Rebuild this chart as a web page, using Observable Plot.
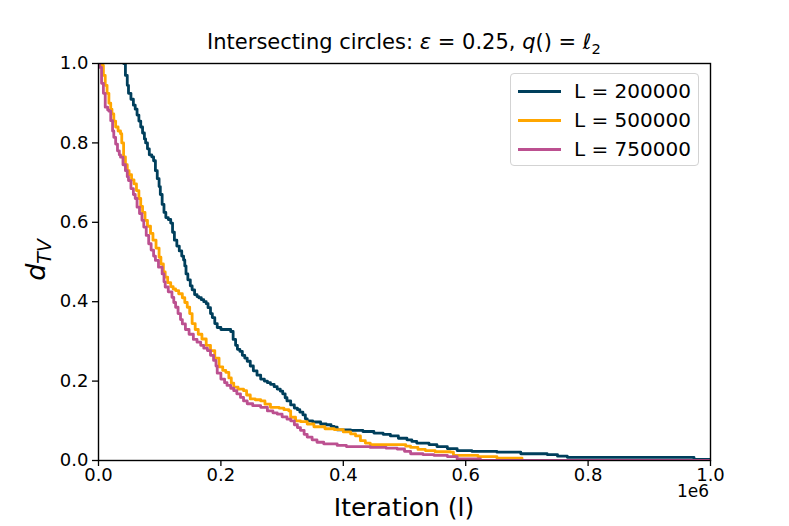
<!DOCTYPE html>
<html>
<head>
<meta charset="utf-8">
<script src="https://cdn.jsdelivr.net/npm/d3@7"></script>
<script src="https://cdn.jsdelivr.net/npm/@observablehq/plot@0.6"></script>
<style>
  html, body { margin: 0; padding: 0; background: white; }
  #wrap { position: relative; width: 789px; height: 526px; font-family: "DejaVu Sans", sans-serif; color: black; }
  #title { position: absolute; left: 98px; width: 612px; top: 31px; text-align: center; font-size: 21px; line-height: 23px; }
  #xlabel { position: absolute; left: 98px; width: 612px; top: 494px; text-align: center; font-size: 25px; line-height: 28px; }
  #ylabel { position: absolute; left: 40px; top: 260px; transform: translate(-50%, -50%) rotate(-90deg); font-size: 27px; white-space: nowrap; line-height: 30px; }
  #offset { position: absolute; right: 80px; top: 484px; font-size: 17px; line-height: 15px; }
  #legend { position: absolute; left: 510px; top: 73px; width: 189px; height: 93px; border: 1px solid #d3d3d3; border-radius: 4px; background: rgba(255,255,255,0.85); box-sizing: border-box; }
  .row { position: absolute; left: 0; height: 24px; width: 100%; }
  .sw { position: absolute; left: 7px; top: 10.5px; width: 43px; height: 3px; }
  .lt { position: absolute; left: 63px; top: 0; font-size: 20px; line-height: 24px; white-space: nowrap; }
  sub { font-size: 0.7em; }
</style>
</head>
<body>
<div id="wrap">
  <div id="chart"></div>
  <div id="title">Intersecting circles: <i>ε</i> = 0.25, <i>q</i>() = <i>ℓ</i><sub>2</sub></div>
  <div id="ylabel"><i>d</i><sub><i>TV</i></sub></div>
  <div id="xlabel">Iteration (l)</div>
  <div id="offset">1e6</div>
  <div id="legend"></div>
</div>
<script>
// ---- data ----
const seriesNames = ["L = 200000", "L = 500000", "L = 750000"];
const seriesColors = ["#003f5c", "#ffa600", "#bc5090"];
const xTicks = [0, 200000, 400000, 600000, 800000, 1000000];
const yTicks = [0, 0.2, 0.4, 0.6, 0.8, 1.0];

const iterL200k = [41000,44000,47000,49000,53000,57000,60000,63000,66000,69000,72000,75000,77000,80000,83000,87000,90000,93000,96000,99000,101000,104000,107000,110000,114000,118000,121000,124000,128000,132000,136000,139000,141000,143000,146000,150000,153000,157000,161000,164000,168000,172000,176000,179000,183000,186000,190000,194000,200000,210000,216000,220000,224000,227000,231000,235000,239000,243000,248000,253000,259000,265000,271000,276000,281000,287000,292000,297000,301000,305000,308000,314000,320000,325000,329000,334000,338000,341000,350000,363000,372000,380000,385000,390000,412000,432000,450000,465000,477000,490000,504000,512000,520000,540000,553000,570000,586000,610000,651000,690000,733000,750000,766000,965000,973000,1000000];
const dtvL200k  = [1.0,0.97,0.945,0.925,0.91,0.895,0.885,0.87,0.855,0.84,0.825,0.81,0.8,0.785,0.77,0.765,0.755,0.73,0.71,0.69,0.67,0.645,0.625,0.612,0.607,0.598,0.575,0.555,0.54,0.528,0.515,0.505,0.49,0.47,0.455,0.44,0.43,0.418,0.413,0.41,0.405,0.4,0.395,0.385,0.37,0.36,0.345,0.335,0.33,0.33,0.325,0.305,0.29,0.28,0.275,0.265,0.258,0.25,0.238,0.226,0.215,0.205,0.2,0.196,0.192,0.186,0.18,0.175,0.168,0.158,0.15,0.14,0.132,0.128,0.122,0.115,0.105,0.1,0.097,0.092,0.09,0.086,0.084,0.077,0.076,0.073,0.069,0.066,0.062,0.056,0.052,0.048,0.044,0.04,0.035,0.03,0.025,0.023,0.021,0.017,0.015,0.011,0.008,0.008,0.003,0.003];

const iterL500k = [0,4000,8000,11000,14000,17000,20000,22000,25000,28000,32000,36000,38000,41000,44000,47000,50000,54000,58000,62000,66000,69000,72000,76000,80000,85000,89000,94000,99000,102000,106000,109000,113000,118000,122000,126000,131000,137000,141000,145000,149000,153000,158000,163000,169000,176000,183000,190000,197000,203000,208000,213000,217000,221000,228000,237000,242000,248000,256000,265000,272000,281000,295000,303000,311000,314000,322000,330000,341000,352000,370000,385000,400000,412000,420000,428000,436000,444000,493000,502000,510000,522000,534000,550000,575000,580000,620000,651000,692000,1000000];
const dtvL500k  = [1.0,0.995,0.97,0.945,0.925,0.9,0.885,0.873,0.855,0.84,0.83,0.823,0.8,0.765,0.745,0.73,0.72,0.707,0.697,0.68,0.66,0.64,0.625,0.605,0.59,0.572,0.555,0.535,0.512,0.495,0.475,0.462,0.448,0.438,0.432,0.428,0.42,0.41,0.398,0.386,0.37,0.345,0.33,0.318,0.306,0.29,0.277,0.258,0.236,0.227,0.222,0.208,0.195,0.185,0.18,0.176,0.165,0.155,0.153,0.15,0.142,0.134,0.132,0.128,0.125,0.109,0.1,0.098,0.092,0.085,0.08,0.078,0.072,0.067,0.062,0.05,0.044,0.04,0.04,0.036,0.033,0.028,0.025,0.022,0.021,0.013,0.01,0.006,0.0,0.0];

const iterL750k = [0,2000,5000,8000,11000,15000,17000,20000,23000,25000,28000,31000,34000,36000,40000,44000,47000,49000,53000,57000,60000,63000,67000,71000,74000,78000,82000,86000,90000,93000,98000,104000,107000,109000,114000,120000,123000,126000,130000,134000,137000,142000,148000,155000,161000,167000,172000,178000,183000,188000,192000,194000,200000,206000,210000,216000,221000,226000,232000,237000,243000,252000,265000,276000,285000,292000,300000,308000,314000,320000,325000,330000,336000,341000,349000,357000,368000,390000,405000,444000,470000,488000,500000,510000,530000,548000,570000,586000,624000,1000000];
const dtvL750k  = [1.0,0.99,0.95,0.925,0.89,0.883,0.88,0.856,0.83,0.814,0.797,0.78,0.77,0.764,0.745,0.73,0.715,0.705,0.685,0.67,0.66,0.638,0.622,0.605,0.588,0.567,0.546,0.53,0.515,0.504,0.487,0.47,0.45,0.437,0.425,0.411,0.398,0.386,0.37,0.355,0.344,0.33,0.318,0.305,0.298,0.29,0.283,0.277,0.265,0.252,0.238,0.22,0.205,0.196,0.189,0.182,0.176,0.168,0.159,0.15,0.143,0.138,0.134,0.125,0.12,0.117,0.11,0.104,0.1,0.09,0.083,0.076,0.066,0.059,0.052,0.046,0.042,0.038,0.035,0.033,0.031,0.029,0.023,0.017,0.015,0.013,0.01,0.004,0.0,0.0];

// ---- build table ----
const seriesX = [iterL200k, iterL500k, iterL750k];
const seriesY = [dtvL200k, dtvL500k, dtvL750k];
const rows = [];
seriesNames.forEach((name, i) => {
  seriesX[i].forEach((x, j) => rows.push({series: name, x, y: seriesY[i][j]}));
});

const chart = Plot.plot({
  width: 789,
  height: 526,
  marginTop: 63,
  marginLeft: 98,
  marginRight: 79,
  marginBottom: 66,
  x: {domain: [0, 1000000]},
  y: {domain: [0, 1]},
  color: {domain: seriesNames, range: seriesColors},
  style: {fontFamily: "DejaVu Sans, sans-serif", fontSize: "18px", color: "black", background: "white"},
  marks: [
    Plot.line(rows, {x: "x", y: "y", z: "series", stroke: "series", curve: "step-after", strokeWidth: 2.8, clip: true}),
    Plot.frame({stroke: "black", strokeWidth: 1.4}),
    Plot.axisX({ticks: xTicks, tickFormat: d => (d / 1e6).toFixed(1), tickSize: 6, tickPadding: 2, strokeWidth: 1.3, label: null, fontSize: 18}),
    Plot.axisY({ticks: yTicks, tickFormat: d => d.toFixed(1), tickSize: 6, tickPadding: 4, strokeWidth: 1.3, label: null, fontSize: 18})
  ]
});
document.getElementById("chart").appendChild(chart);

// ---- legend ----
const legend = document.getElementById("legend");
const rowTops = [5, 34, 63];
seriesNames.forEach((name, i) => {
  const r = document.createElement("div");
  r.className = "row";
  r.style.top = rowTops[i] + "px";
  const sw = document.createElement("div");
  sw.className = "sw";
  sw.style.background = seriesColors[i];
  const t = document.createElement("div");
  t.className = "lt";
  t.textContent = name;
  r.appendChild(sw); r.appendChild(t);
  legend.appendChild(r);
});
</script>
</body>
</html>
